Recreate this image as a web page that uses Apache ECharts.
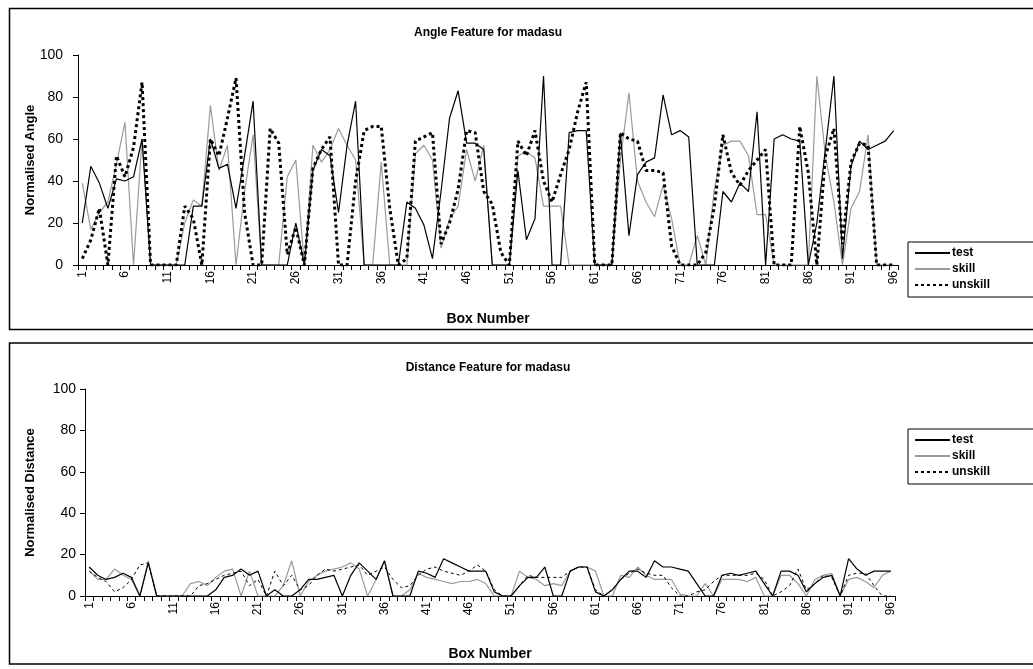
<!DOCTYPE html>
<html>
<head>
<meta charset="utf-8">
<script src="https://cdn.jsdelivr.net/npm/echarts@6/dist/echarts.min.js"></script>
<style>
  html, body { margin: 0; padding: 0; background: #fff; }
  #angle { position: absolute; left: 0; top: 0; width: 1033px; height: 336px; }
  #distance { position: absolute; left: 0; top: 336px; width: 1033px; height: 333px; }
</style>
</head>
<body>
<div id="angle"></div>
<div id="distance"></div>
<script>
// box numbers 1..96 on the x axis
const boxNumbers = Array.from({length: 96}, (_, i) => String(i + 1));

// Angle feature (top chart)
const angleTest = [
  20, 47, 39, 27, 41, 40, 42, 60, 0, 0,
  0, 0, 0, 28, 28, 60, 46, 48, 27, 52,
  78, 0, 0, 0, 0, 20, 0, 45, 55, 52,
  25, 57, 78, 0, 0, 0, 0, 0, 30, 27,
  19, 3, 35, 70, 83, 58, 58, 55, 0, 0,
  0, 45, 12, 22, 90, 0, 0, 63, 64, 64,
  0, 0, 0, 63, 14, 43, 49, 51, 81, 62,
  64, 61, 0, 0, 0, 35, 30, 39, 35, 73,
  0, 60, 62, 60, 59, 0, 20, 55, 90, 3,
  47, 59, 55, 57, 59, 64
];
const angleSkill = [
  39, 17, 25, 30, 48, 68, 0, 60, 0, 0,
  0, 0, 20, 31, 28, 76, 45, 57, 0, 35,
  62, 0, 0, 0, 42, 50, 0, 57, 49, 55,
  65, 57, 50, 0, 0, 49, 0, 0, 0, 53,
  57, 50, 8, 22, 28, 55, 40, 57, 0, 0,
  0, 52, 54, 51, 28, 28, 28, 0, 0, 0,
  0, 0, 0, 50, 82, 40, 30, 23, 38, 22,
  0, 0, 14, 0, 36, 57, 59, 59, 52, 24,
  24, 0, 0, 0, 0, 0, 90, 52, 30, 0,
  27, 35, 62, 0, 0, 0
];
const angleUnskill = [
  3, 12, 27, 0, 52, 42, 56, 87, 0, 0,
  0, 0, 28, 22, 0, 60, 52, 70, 89, 25,
  0, 0, 65, 58, 5, 18, 0, 46, 55, 61,
  0, 0, 40, 64, 66, 66, 27, 0, 3, 59,
  61, 63, 10, 20, 36, 64, 63, 35, 29, 6,
  0, 59, 52, 64, 40, 30, 43, 55, 73, 87,
  0, 0, 0, 63, 60, 59, 45, 45, 44, 9,
  0, 0, 0, 6, 28, 62, 44, 38, 45, 50,
  55, 0, 0, 0, 66, 44, 0, 52, 65, 10,
  49, 58, 57, 0, 0, 0
];

// Distance feature (bottom chart)
const distTest = [
  14, 10, 8, 9, 11, 9, 0, 16, 0, 0,
  0, 0, 0, 0, 0, 3, 9, 10, 13, 10,
  12, 0, 3, 0, 0, 3, 8, 8, 9, 10,
  0, 10, 16, 12, 8, 17, 0, 0, 0, 12,
  11, 9, 18, 16, 14, 12, 12, 12, 2, 0,
  0, 5, 9, 9, 14, 0, 0, 12, 14, 14,
  2, 0, 3, 8, 12, 12, 9, 17, 14, 14,
  13, 12, 6, 0, 0, 10, 11, 10, 11, 12,
  6, 0, 12, 12, 10, 2, 6, 9, 10, 0,
  18, 13, 10, 12, 12, 12
];
const distSkill = [
  12, 8, 8, 13, 10, 8, 0, 17, 0, 0,
  0, 0, 6, 7, 5, 9, 12, 13, 0, 12,
  0, 0, 0, 5, 17, 0, 7, 10, 12, 13,
  14, 16, 13, 0, 8, 17, 0, 0, 3, 11,
  9, 8, 7, 6, 7, 7, 8, 6, 0, 0,
  0, 12, 9, 8, 5, 6, 5, 12, 14, 14,
  12, 0, 0, 10, 9, 14, 10, 8, 8, 8,
  1, 0, 0, 6, 0, 8, 8, 8, 7, 9,
  0, 0, 10, 10, 6, 0, 8, 10, 11, 0,
  8, 9, 7, 4, 10, 12
];
const distUnskill = [
  12, 9, 7, 2, 4, 8, 15, 16, 0, 0,
  0, 0, 0, 5, 6, 8, 10, 11, 12, 5,
  8, 0, 12, 5, 10, 3, 5, 10, 13, 12,
  13, 14, 15, 10, 12, 14, 8, 4, 5, 10,
  13, 14, 12, 11, 10, 12, 15, 12, 3, 0,
  0, 5, 10, 9, 9, 9, 9, 12, 14, 14,
  3, 0, 3, 8, 11, 13, 11, 10, 10, 4,
  0, 0, 2, 3, 7, 10, 10, 10, 10, 11,
  8, 0, 2, 5, 13, 3, 6, 10, 9, 0,
  10, 11, 11, 5, 0, 0
];

const yTicks = [0, 20, 40, 60, 80, 100];
const seriesNames = ['test', 'skill', 'unskill'];

function buildOption(cfg) {
    return {
        animation: false,
        backgroundColor: '#fff',
        textStyle: {fontFamily: 'Liberation Sans, Arial, sans-serif'},
        title: {
            text: cfg.title,
            left: 483,
            top: cfg.titleTop,
            textAlign: 'center',
            textStyle: {fontSize: 12, fontWeight: 'bold', color: '#000'}
        },
        graphic: [{
            type: 'rect',
            shape: {x: 9.5, y: cfg.frameTop, width: 1030, height: 321},
            style: {fill: 'none', stroke: '#000', lineWidth: 1.5},
            silent: true
        }],
        legend: {
            orient: 'vertical',
            left: 908,
            top: cfg.legendTop,
            data: seriesNames,
            itemWidth: 35,
            itemHeight: 10,
            itemGap: 4,
            padding: [5, 60, 6, 6],
            borderColor: '#000',
            borderWidth: 1,
            itemStyle: {opacity: 0},
            textStyle: {fontSize: 12, fontWeight: 'bold', color: '#000', padding: [0, 0, 0, -3]}
        },
        grid: {
            left: cfg.gridLeft,
            top: cfg.gridTop,
            width: cfg.gridWidth,
            height: cfg.gridHeight
        },
        xAxis: {
            type: 'category',
            data: boxNumbers,
            boundaryGap: true,
            name: 'Box Number',
            nameLocation: 'middle',
            nameGap: cfg.xNameGap,
            nameTextStyle: {fontSize: 14, fontWeight: 'bold', color: '#000'},
            axisLine: {lineStyle: {color: '#000', width: 1}},
            axisTick: {show: true, interval: 0, length: 5, lineStyle: {color: '#000'}},
            axisLabel: {interval: 4, rotate: 90, fontSize: 12, color: '#000', margin: 6},
            splitLine: {show: false}
        },
        yAxis: {
            type: 'value',
            min: 0,
            max: 100,
            interval: yTicks[1] - yTicks[0],
            name: cfg.yName,
            nameLocation: 'middle',
            nameGap: cfg.yNameGap,
            nameMoveOverlap: false,
            nameTextStyle: {fontSize: 13, fontWeight: 'bold', color: '#000'},
            axisLine: {show: true, lineStyle: {color: '#000', width: 1}},
            axisTick: {show: true, length: 5, lineStyle: {color: '#000'}},
            axisLabel: {fontSize: 14, color: '#000', margin: cfg.yLabelMargin},
            splitLine: {show: false}
        },
        series: [
            {
                name: 'test', type: 'line', data: cfg.test,
                symbol: 'none', z: 3,
                lineStyle: {color: '#000', width: 1.2},
                itemStyle: {color: '#000'}
            },
            {
                name: 'skill', type: 'line', data: cfg.skill,
                symbol: 'none', z: 2,
                lineStyle: {color: '#9a9a9a', width: 1.2},
                itemStyle: {color: '#9a9a9a'}
            },
            {
                name: 'unskill', type: 'line', data: cfg.unskill,
                symbol: 'none', z: 4,
                lineStyle: cfg.unskillStyle,
                itemStyle: {color: '#000'}
            }
        ]
    }
}

const angleChart = echarts.init(document.getElementById('angle'), null, {renderer: 'canvas'})
angleChart.setOption(buildOption({
    title: 'Angle Feature for madasu',
    titleTop: 22,
    frameTop: 8.5,
    legendTop: 242,
    gridLeft: 78,
    gridTop: 55,
    gridWidth: 820,
    gridHeight: 210,
    xNameGap: 47,
    yNameGap: 41,
    yLabelMargin: 15,
    yName: 'Normalised Angle',
    test: angleTest,
    skill: angleSkill,
    unskill: angleUnskill,
    unskillStyle: {color: '#000', width: 3, type: [3, 3]}
}))

const distanceChart = echarts.init(document.getElementById('distance'), null, {renderer: 'canvas'})
distanceChart.setOption(buildOption({
    title: 'Distance Feature for madasu',
    titleTop: 21,
    frameTop: 7,
    legendTop: 93,
    gridLeft: 85,
    gridTop: 53,
    gridWidth: 810,
    gridHeight: 207,
    xNameGap: 51,
    yNameGap: 48,
    yLabelMargin: 9,
    yName: 'Normalised Distance',
    test: distTest,
    skill: distSkill,
    unskill: distUnskill,
    unskillStyle: {color: '#000', width: 1, type: [3, 3]}
}))
</script>
</body>
</html>
